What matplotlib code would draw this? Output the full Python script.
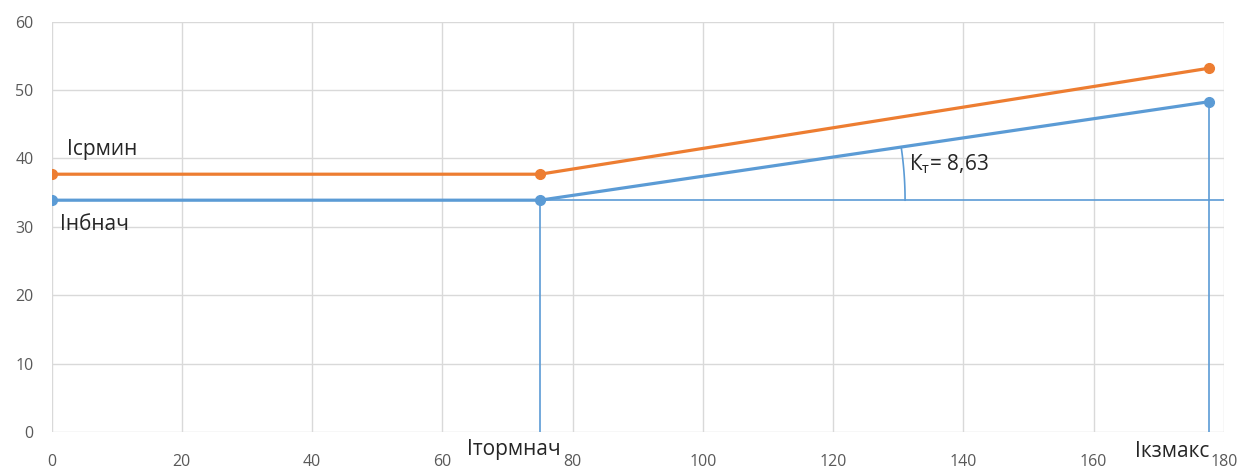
import numpy as np
import matplotlib.pyplot as plt

plt.rcParams['font.family'] = ['Open Sans', 'DejaVu Sans']

# дані
x_points = [0, 75, 177.7]
i_srmin = [37.7, 37.7, 53.2]
i_nb = [33.9, 33.9, 48.3]
x_ticks = list(range(0, 181, 20))
y_ticks = list(range(0, 61, 10))
kt_text = "К$_{\\mathregular{т}}$= 8,63"

orange = '#ED7D31'
blue = '#5B9BD5'
txt = '#262626'

fig = plt.figure(figsize=(12.42, 4.68), dpi=100)
ax = fig.add_axes([0.0415, 0.0769, 0.944, 0.8767])
ax.set_xlim(0, 180)
ax.set_ylim(0, 60)
ax.set_xticks(x_ticks)
ax.set_yticks(y_ticks)
ax.grid(True, color='#D9D9D9', linewidth=1)
ax.set_axisbelow(True)
for s in ax.spines.values():
    s.set_visible(False)
ax.tick_params(length=0, labelsize=11.5, labelcolor='#595959')
ax.tick_params(axis='x', pad=16)
ax.tick_params(axis='y', pad=13)

# допоміжні лінії
ax.axhline(i_nb[0], color=blue, linewidth=1.2)
ax.plot([x_points[1], x_points[1]], [0, i_nb[1]], color=blue, linewidth=1.2)
ax.plot([x_points[2], x_points[2]], [0, i_nb[2]], color=blue, linewidth=1.2)

ax.plot(x_points, i_srmin, color=orange, linewidth=2.3, marker='o', markersize=7)
ax.plot(x_points, i_nb, color=blue, linewidth=2.3, marker='o', markersize=7)

# дуга кута
fig.canvas.draw()
to_px = ax.transData
c = to_px.transform((x_points[1], i_nb[1]))
p2 = to_px.transform((x_points[2], i_nb[2]))
ang = np.arctan2(p2[1] - c[1], p2[0] - c[0])
r = 365
t = np.linspace(0, ang, 50)
pts = np.column_stack([c[0] + r * np.cos(t), c[1] + r * np.sin(t)])
arc = to_px.inverted().transform(pts)
ax.plot(arc[:, 0], arc[:, 1], color=blue, linewidth=1.2)

ax.text(2.4, 40.5, "Ісрмин", fontsize=15, color=txt, va='baseline')
ax.text(1.3, 29.6, "Інбнач", fontsize=15, color=txt, va='baseline')
ax.text(131.6, 38.3, kt_text, fontsize=15, color=txt, va='baseline')
ax.text(63.8, -3.4, "Ітормнач", fontsize=15, color=txt, va='baseline', clip_on=False)
ax.text(166.3, -3.7, "Ікзмакс", fontsize=15, color=txt, va='baseline', clip_on=False)

fig.savefig('out.png', dpi=100)
